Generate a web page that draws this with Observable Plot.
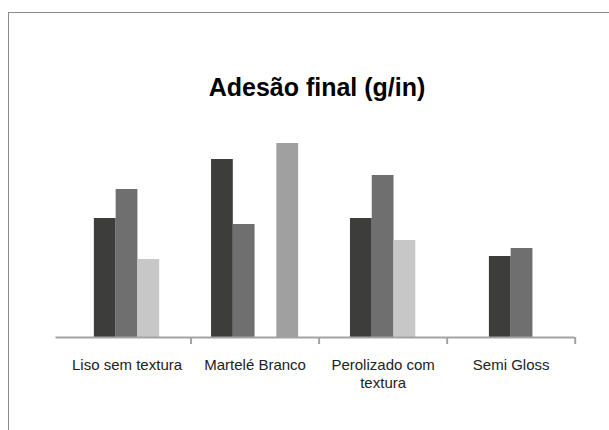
<!DOCTYPE html>
<html>
<head>
<meta charset="utf-8">
<script src="https://cdn.jsdelivr.net/npm/d3@7"></script>
<script src="https://cdn.jsdelivr.net/npm/@observablehq/plot@0.6"></script>
<style>
  html, body { margin: 0; padding: 0; background: #fff; overflow: hidden; width: 609px; height: 430px; }
  #frame { position: absolute; left: 8px; top: 12px; width: 640px; height: 440px; border: 1px solid #8a8a8a; box-sizing: border-box; }
  #title { position: absolute; left: 8px; width: 618px; top: 75px; text-align: center; line-height: 25px;
           font-family: "Liberation Sans", Arial, sans-serif; font-weight: bold; font-size: 25px; color: #000; }
  #chart { position: absolute; left: 0; top: 0; }
</style>
</head>
<body>
<div id="frame"></div>
<div id="title">Adesão final (g/in)</div>
<div id="chart"></div>
<script>
const categories = ["Liso sem textura", "Martelé Branco", "Perolizado com textura", "Semi Gloss"];
const seriesNames = ["Série 1", "Série 2", "Série 3", "Série 4"];
const serie1 = [119, 178, 119, 81];
const serie2 = [148, 113, 162, 89];
const serie3 = [78, null, 97, null];
const serie4 = [null, 194, null, null];
const seriesColors = ["#3d3d3b", "#6f6f6f", "#c7c7c7", "#a0a0a0"];

const seriesValues = [serie1, serie2, serie3, serie4];
const barFrac = 0.17;
const rows = [];
categories.forEach((cat, ci) => {
  const vals = seriesValues.map(s => s[ci]);
  let n = 0;
  vals.forEach((v, i) => { if (v != null) n = i + 1; });
  vals.forEach((v, i) => {
    if (v == null) return;
    const x1 = ci + 0.5 + (i - n / 2) * barFrac;
    rows.push({category: cat, series: seriesNames[i], value: v, x1, x2: x1 + barFrac});
  });
});

const chart = Plot.plot({
  width: 609,
  height: 430,
  marginLeft: 62.5,
  marginRight: 34.3,
  marginTop: 137,
  marginBottom: 93,
  style: {fontFamily: "'Liberation Sans', Arial, sans-serif", background: "transparent", overflow: "visible"},
  x: {domain: [0, categories.length], axis: null},
  y: {domain: [0, 200], axis: null},
  color: {domain: seriesNames, range: seriesColors},
  marks: [
    Plot.rectY(rows, {x1: "x1", x2: "x2", y: "value", fill: "series"}),
    Plot.ruleY([0], {stroke: "#a3a3a3", strokeWidth: 2, insetLeft: -7}),
    Plot.axisX({ticks: [1, 2, 3, 4], tickSize: 7, tickFormat: () => "", stroke: "#a3a3a3", strokeWidth: 2}),
    Plot.axisX({
      ticks: categories.map((c, i) => i + 0.5),
      tickSize: 0,
      tickPadding: 19,
      tickFormat: d => categories[Math.floor(d)],
      lineWidth: 8.5,
      lineHeight: 1.23,
      fontSize: 15,
      fill: "#222"
    })
  ]
});
document.getElementById("chart").appendChild(chart);
</script>
</body>
</html>
